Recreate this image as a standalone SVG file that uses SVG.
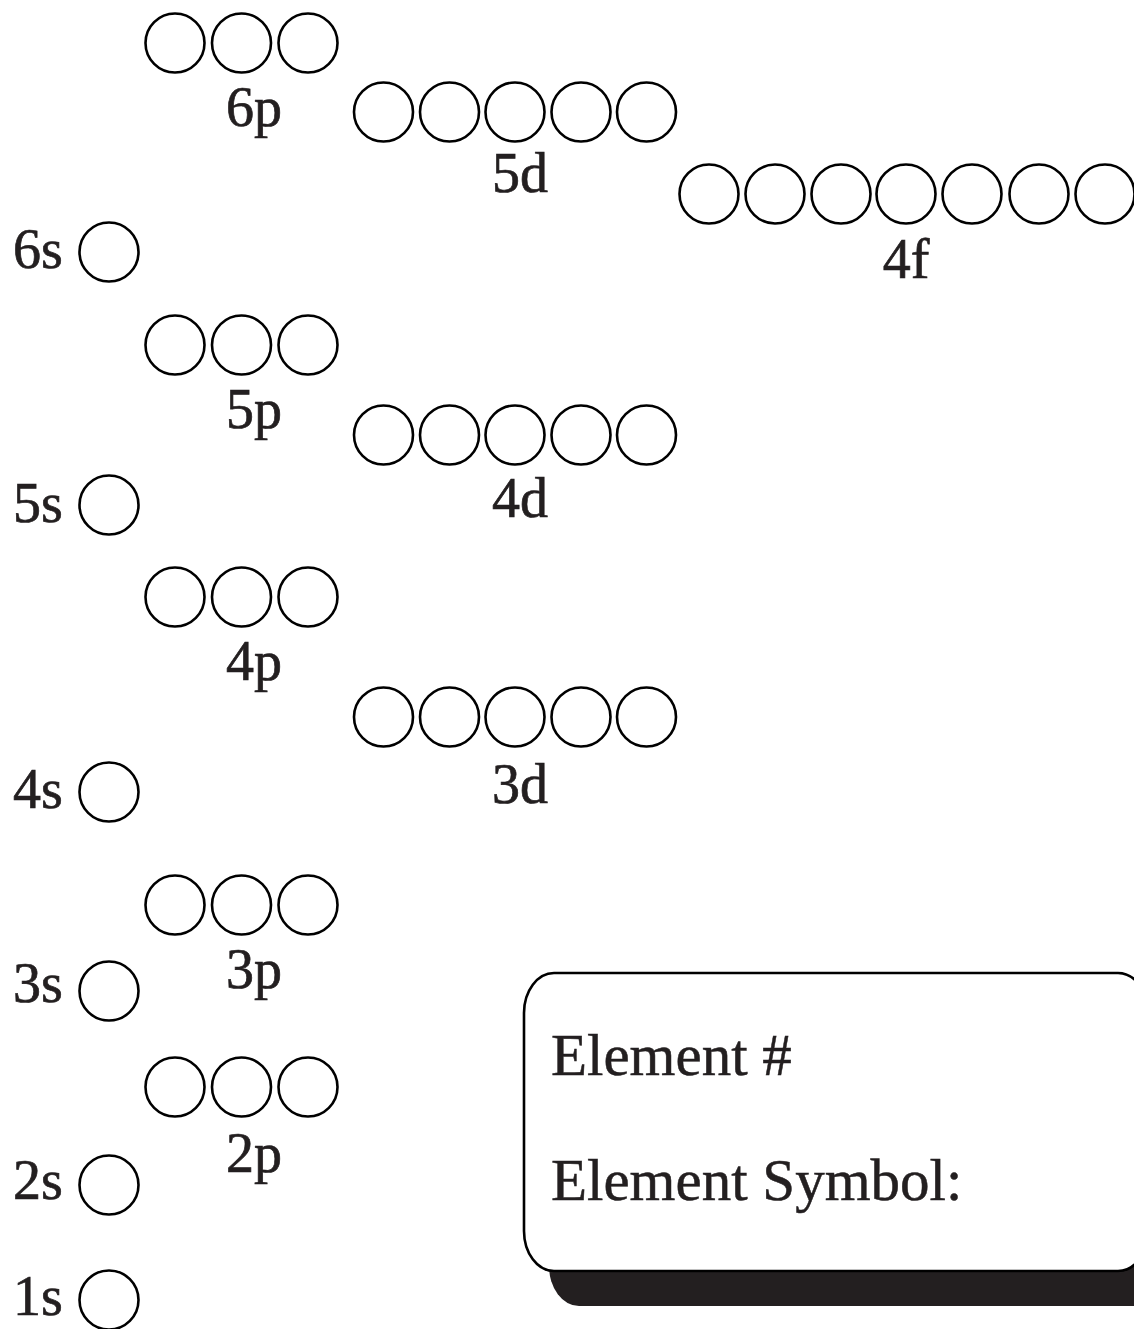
<svg xmlns="http://www.w3.org/2000/svg" width="1134" height="1329" viewBox="0 0 1134 1329">
<style>
.o{fill:#fff;stroke:#000;stroke-width:2.6}
.t{font-family:"Liberation Serif","Times New Roman",serif;font-size:56px;fill:#231f20;stroke:#231f20;stroke-width:0.7}
.c{text-anchor:middle}
.b{font-family:"Liberation Serif","Times New Roman",serif;font-size:59px;fill:#231f20;stroke:#231f20;stroke-width:0.5}
</style>
<defs>
<circle id="orb" r="29.5" class="o"/>
<g id="p3"><use href="#orb" x="175"/><use href="#orb" x="241.5"/><use href="#orb" x="308"/></g>
<g id="d5"><use href="#orb" x="383.5"/><use href="#orb" x="449.5"/><use href="#orb" x="515"/><use href="#orb" x="581"/><use href="#orb" x="646.5"/></g>
</defs>
<rect width="1134" height="1329" fill="#fff"/>
<g id="connectors"></g>
<g id="o6p"><use href="#p3" y="43"/><text class="t c" x="254" y="126">6p</text></g>
<g id="o5d"><use href="#d5" y="112"/><text class="t c" x="520" y="192">5d</text></g>
<g id="o4f">
<use href="#orb" x="709" y="194"/><use href="#orb" x="775" y="194"/><use href="#orb" x="841" y="194"/><use href="#orb" x="906" y="194"/><use href="#orb" x="972" y="194"/><use href="#orb" x="1039" y="194"/><use href="#orb" x="1105" y="194"/>
<text class="t c" x="906" y="278">4f</text></g>
<g id="o6s"><use href="#orb" x="109" y="252"/><text class="t" x="13" y="268">6s</text></g>
<g id="o5p"><use href="#p3" y="345"/><text class="t c" x="254" y="428">5p</text></g>
<g id="o4d"><use href="#d5" y="435"/><text class="t c" x="520" y="517">4d</text></g>
<g id="o5s"><use href="#orb" x="109" y="505"/><text class="t" x="13" y="522">5s</text></g>
<g id="o4p"><use href="#p3" y="597"/><text class="t c" x="254" y="680">4p</text></g>
<g id="o3d"><use href="#d5" y="717"/><text class="t c" x="520" y="803">3d</text></g>
<g id="o4s"><use href="#orb" x="109" y="792"/><text class="t" x="13" y="808">4s</text></g>
<g id="o3p"><use href="#p3" y="905"/><text class="t c" x="254" y="988">3p</text></g>
<g id="o3s"><use href="#orb" x="109" y="991"/><text class="t" x="13" y="1002">3s</text></g>
<g id="o2p"><use href="#p3" y="1087"/><text class="t c" x="254" y="1172">2p</text></g>
<g id="o2s"><use href="#orb" x="109" y="1185"/><text class="t" x="13" y="1199">2s</text></g>
<g id="o1s"><use href="#orb" x="109" y="1300"/><text class="t" x="13" y="1315">1s</text></g>
<g id="infobox">
<path d="M549,1001 L549,1266 A30,40 0 0 0 579,1306 L1148,1306 L1148,1001 Z" fill="#231f20"/>
<path d="M524,1013 A30,40 0 0 1 554,973 L1118,973 A30,40 0 0 1 1148,1013 L1148,1231 A30,40 0 0 1 1118,1271 L554,1271 A30,40 0 0 1 524,1231 Z" fill="#fff" stroke="#000" stroke-width="2.6"/>
<text class="b" x="551" y="1075">Element #</text>
<text class="b" x="551" y="1200">Element Symbol:</text>
</g>
</svg>
